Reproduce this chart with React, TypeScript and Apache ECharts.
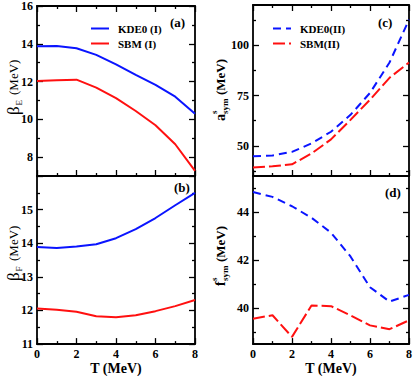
import React, { useEffect, useRef } from 'react';
import * as echarts from 'echarts';

// ---- data ----
const T = [0, 1, 2, 3, 4, 5, 6, 7, 8];
const betaE_KDE0 = [13.87, 13.88, 13.76, 13.41, 12.91, 12.35, 11.82, 11.2, 10.3];
const betaE_SBM = [12.03, 12.07, 12.1, 11.68, 11.12, 10.44, 9.69, 8.68, 7.27];
const betaF_KDE0 = [13.89, 13.86, 13.9, 13.97, 14.15, 14.42, 14.75, 15.13, 15.5];
const betaF_SBM = [12.06, 12.02, 11.96, 11.83, 11.8, 11.86, 11.98, 12.13, 12.31];
const asym_KDE0 = [44.8, 45.2, 47.0, 51.2, 57.0, 65.4, 76.3, 91.4, 112.7];
const asym_SBM = [39.2, 39.8, 40.8, 46.2, 53.2, 62.9, 72.9, 83.8, 91.4];
const fsym_KDE0 = [44.83, 44.63, 44.24, 43.76, 43.14, 42.15, 40.87, 40.27, 40.55];
const fsym_SBM = [39.56, 39.7, 38.8, 40.11, 40.08, 39.7, 39.28, 39.12, 39.49];

// ---- ticks ----
const xMajor = [0, 2, 4, 6, 8];
const xMinor = [1, 3, 5, 7];
const aMajor = [8, 10, 12, 14, 16];
const aMinor = [9, 11, 13, 15];
const bMajor = [11, 12, 13, 14, 15, 16];
const bLabels = [11, 12, 13, 14, 15];
const bMinor = [11.5, 12.5, 13.5, 14.5, 15.5];
const cMajor = [50, 75, 100];
const cMinor = [37.5, 62.5, 87.5, 112.5];
const dMajor = [40, 42, 44];
const dMinor = [39, 41, 43, 45];

const BLUE = '#0a14ff';
const RED = '#ff1010';
const FONT = "'Liberation Serif', 'Times New Roman', serif";

const grids = [
  { left: 37, top: 5, width: 158, height: 171 },
  { left: 37, top: 176, width: 158, height: 170 },
  { left: 253, top: 5, width: 156, height: 171 },
  { left: 253, top: 176, width: 156, height: 170 },
];

const yCfg = [
  { min: 7, max: 16, major: aMajor, minor: aMinor, labels: aMajor },
  { min: 11, max: 16, major: bMajor, minor: bMinor, labels: bLabels },
  { min: 35, max: 120, major: cMajor, minor: cMinor, labels: cMajor },
  { min: 38.5, max: 45.5, major: dMajor, minor: dMinor, labels: dMajor },
];

const lineStyle = { color: '#000', width: 1.8 };
const tickStyle = { color: '#000', width: 1.3 };
const labelStyle = { fontFamily: FONT, fontWeight: 'bold' as const, fontSize: 12, color: '#000' };

function buildOption() {
  const xAxis: any[] = [];
  const yAxis: any[] = [];
  for (let g = 0; g < 4; g++) {
    const bottomLabels = g === 1 || g === 3;
    const topTicks = g === 0 || g === 2;
    const mkX = (pos: string, vals: number[], len: number, major: boolean, showTick: boolean) => ({
      type: 'value', gridIndex: g, position: pos, min: 0, max: 8,
      axisLine: { show: major, onZero: false, lineStyle },
      axisTick: { show: showTick, inside: true, length: len, customValues: vals, lineStyle: tickStyle },
      axisLabel: { show: major && pos === 'bottom' && bottomLabels, customValues: xMajor, margin: 4, ...labelStyle },
      splitLine: { show: false },
      name: major && pos === 'bottom' && bottomLabels ? 'T (MeV)' : '',
      nameLocation: 'middle', nameGap: 16,
      nameTextStyle: { fontFamily: FONT, fontWeight: 'bold', fontSize: 14, color: '#000' },
    });
    xAxis.push(mkX('bottom', xMajor, 6, true, true));
    xAxis.push(mkX('bottom', xMinor, 3, false, true));
    xAxis.push(mkX('top', xMajor, 6, true, topTicks));
    xAxis.push(mkX('top', xMinor, 3, false, topTicks));
    const c = yCfg[g];
    const mkY = (pos: string, vals: number[], len: number, major: boolean) => ({
      type: 'value', gridIndex: g, position: pos, min: c.min, max: c.max,
      axisLine: { show: major, onZero: false, lineStyle },
      axisTick: { show: true, inside: true, length: len, customValues: vals, lineStyle: tickStyle },
      axisLabel: { show: major && pos === 'left', customValues: c.labels, margin: 4, ...labelStyle },
      splitLine: { show: false },
    });
    yAxis.push(mkY('left', c.major, 6, true));
    yAxis.push(mkY('left', c.minor, 3, false));
    yAxis.push(mkY('right', c.major, 6, true));
    yAxis.push(mkY('right', c.minor, 3, false));
  }

  const mk = (name: string, g: number, vals: number[], color: string, dash: any) => ({
    type: 'line', name, xAxisIndex: g * 4, yAxisIndex: g * 4,
    data: T.map((t, i) => [t, vals[i]]),
    symbol: 'none', smooth: false,
    lineStyle: { color, width: 2, type: dash },
    itemStyle: { color },
  });

  const series = [
    mk('KDE0 (I)', 0, betaE_KDE0, BLUE, 'solid'),
    mk('SBM (I)', 0, betaE_SBM, RED, 'solid'),
    mk('KDE0 (I)', 1, betaF_KDE0, BLUE, 'solid'),
    mk('SBM (I)', 1, betaF_SBM, RED, 'solid'),
    mk('KDE0(II)', 2, asym_KDE0, BLUE, [8, 5]),
    mk('SBM(II)', 2, asym_SBM, RED, [12, 4]),
    mk('KDE0(II)', 3, fsym_KDE0, BLUE, [8, 5]),
    mk('SBM(II)', 3, fsym_SBM, RED, [12, 4]),
  ];

  const legendBase = {
    orient: 'vertical', itemWidth: 18, itemHeight: 10, itemGap: 4,
    itemStyle: { opacity: 0 },
    textStyle: { fontFamily: FONT, fontWeight: 'bold', fontSize: 11, color: '#000', padding: [0, 0, 0, 4] },
  };

  const panelLabel = (text: string, x: number, y: number) => ({
    type: 'text', x, y,
    style: { text, fontFamily: FONT, fontWeight: 'bold', fontSize: 13, fill: '#000', align: 'left', verticalAlign: 'middle' },
  });

  const part = (t: string, x: number, y: number, size: number, bold: boolean) => ({
    type: 'text', x, y,
    style: { text: t, fontFamily: FONT, fontWeight: bold ? 'bold' : 'normal', fontSize: size, fill: '#000', align: 'left', verticalAlign: 'middle' },
  });

  const betaName = (sub: string, cx: number, cy: number) => ({
    type: 'group', x: cx, y: cy, rotation: Math.PI / 2,
    children: [
      part('β', -29, 0, 17, false),
      part(sub, -19.5, 5.5, 9, false),
      part('(MeV)', -9, 0, 13, false),
    ],
  });

  const symName = (main: string, mainW: number, cx: number, cy: number) => ({
    type: 'group', x: cx, y: cy, rotation: Math.PI / 2,
    children: [
      part(main, -31, 0, 14, true),
      part('s', -31 + mainW, -6, 9, true),
      part('sym', -31 + mainW, 5, 9, true),
      part('(MeV)', -31 + mainW + 19, 0, 13, true),
    ],
  });

  return {
    animation: false,
    backgroundColor: '#fff',
    grid: grids.map((g) => ({ ...g, containLabel: false })),
    xAxis, yAxis, series,
    legend: [
      { ...legendBase, data: ['KDE0 (I)', 'SBM (I)'], left: 85, top: 18 },
      { ...legendBase, data: ['KDE0(II)', 'SBM(II)'], left: 267, top: 18 },
    ],
    graphic: [
      panelLabel('(a)', 170, 22),
      panelLabel('(b)', 174, 187),
      panelLabel('(c)', 378, 22),
      panelLabel('(d)', 385, 192),
      betaName('E', 13, 86),
      betaName('F', 13, 252),
      symName('a', 7, 220, 90),
      symName('f', 5, 220, 255),
    ],
  };
}

export default function App() {
  const ref = useRef<HTMLDivElement>(null);
  useEffect(() => {
    const chart = echarts.init(ref.current!, null, { renderer: 'svg' });
    chart.setOption(buildOption() as any);
    return () => chart.dispose();
  }, []);
  return (
    <div
      ref={ref}
      style={{ position: 'fixed', left: 0, top: 0, width: 415, height: 376, background: '#fff' }}
    />
  );
}
